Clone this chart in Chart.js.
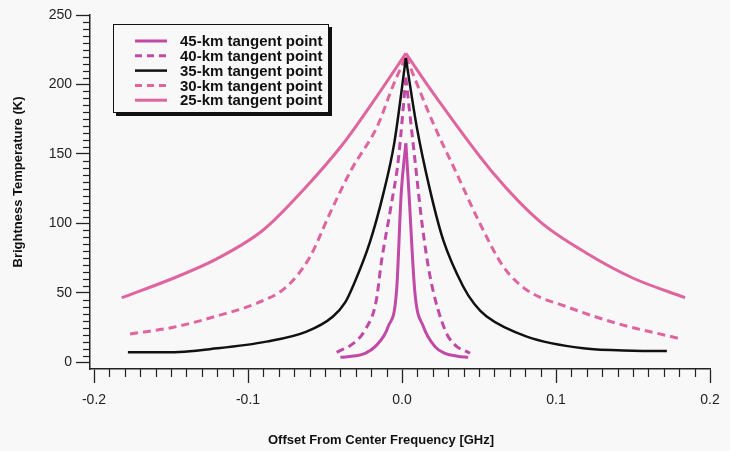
<!DOCTYPE html>
<html>
<head>
<meta charset="utf-8">
<title>Brightness Temperature vs Offset</title>
<script src="https://cdn.jsdelivr.net/npm/chart.js@4"></script>
<style>
  html, body { margin: 0; padding: 0; background: #f8f8f8; }
  #wrap { position: relative; width: 730px; height: 451px; }
</style>
</head>
<body>
<div id="wrap"><canvas id="chart"></canvas></div>
<script>
// ========================================
// Data
// ========================================
const freqTicks = [-0.2, -0.1, 0.0, 0.1, 0.2];
const tempTicks = [0, 50, 100, 150, 200, 250];

const labels = ['45-km tangent point', '40-km tangent point', '35-km tangent point', '30-km tangent point', '25-km tangent point'];

const freq45 = [-0.040, -0.030, -0.024, -0.0175, -0.0089, -0.0035, -0.0005, 0.0025, 0.0045, 0.0084, 0.0138, 0.0214, 0.0279, 0.036, 0.043];
const temp45 = [3.7, 4.8, 6.6, 11.4, 26, 52, 122, 157.7, 122, 50, 26, 11.4, 6.6, 4.5, 3.7];

const freq40 = [-0.0424, -0.0316, -0.024, -0.0168, -0.0132, -0.0072, -0.0024, 0.0025, 0.0084, 0.013, 0.0182, 0.0279, 0.034, 0.0442];
const temp40 = [7.3, 13.7, 23.4, 44, 73.7, 112, 145.7, 205, 145.7, 100, 62, 23.4, 13, 6.6];

const freq35 = [-0.178, -0.153, -0.120, -0.088, -0.062, -0.045, -0.037, -0.031, -0.021, -0.012, -0.005, 0.0025, 0.0095, 0.0182, 0.0268, 0.0398, 0.047, 0.055, 0.081, 0.1177, 0.150, 0.172];
const temp35 = [7.3, 7.3, 10.2, 15, 22.2, 32.9, 43, 57, 86, 122, 158, 219, 170, 124, 88, 54.5, 42, 33, 18.6, 10.2, 8.5, 8.3];

const freq30 = [-0.1766, -0.1485, -0.1203, -0.0944, -0.0749, -0.0597, -0.0468, -0.033, -0.016, -0.0055, 0.0025, 0.0052, 0.0203, 0.0355, 0.0506, 0.0658, 0.081, 0.107, 0.1394, 0.1794];
const temp30 = [20.5, 25.3, 33.4, 42.6, 54.5, 76.1, 107.3, 138.5, 170, 200, 220, 212.8, 172, 136, 100, 69, 52.2, 40.1, 28.2, 17.4];

const freq25 = [-0.182, -0.1485, -0.1203, -0.0901, -0.0641, -0.038, -0.016, 0.0025, 0.0214, 0.0593, 0.0896, 0.1199, 0.1502, 0.1838];
const temp25 = [46.6, 60.6, 74.5, 95.3, 124.1, 157.7, 192, 222.4, 192, 136.1, 101.3, 78.6, 60.6, 46.6];

// ========================================
// Styles
// ========================================
const MAGENTA = '#c04aa6';
const PINK = '#e0659f';
const BLACK = '#111111';
const AXIS = '#222222';
const BG = '#f8f8f8';

const seriesList = [
  { label: labels[0], x: freq45, y: temp45, color: MAGENTA, dash: [], width: 3 },
  { label: labels[1], x: freq40, y: temp40, color: MAGENTA, dash: [8, 5], width: 3 },
  { label: labels[2], x: freq35, y: temp35, color: BLACK, dash: [], width: 2.5 },
  { label: labels[3], x: freq30, y: temp30, color: PINK, dash: [8, 5], width: 3 },
  { label: labels[4], x: freq25, y: temp25, color: PINK, dash: [], width: 3 }
];

// Each curve is split at its peak so the cusp stays sharp
function buildDatasets() {
  const sets = [];
  seriesList.forEach(s => {
    const pts = s.x.map((v, i) => ({ x: v, y: s.y[i] }));
    let peak = 0;
    pts.forEach((p, i) => { if (p.y > pts[peak].y) peak = i; });
    [pts.slice(0, peak + 1), pts.slice(peak)].forEach(part => {
      sets.push({
        label: s.label,
        data: part,
        borderColor: s.color,
        borderWidth: s.width,
        borderDash: s.dash,
        pointRadius: 0,
        fill: false,
        cubicInterpolationMode: 'monotone'
      });
    });
  });
  return sets;
}

// ========================================
// Extras: minor ticks, legend box, axis titles
// ========================================
const extrasPlugin = {
  id: 'extras',
  afterDraw(chart) {
    const ctx = chart.ctx;
    const xs = chart.scales.x;
    const ys = chart.scales.y;
    const area = chart.chartArea;

    ctx.save();
    ctx.strokeStyle = AXIS;
    ctx.lineWidth = 1.2;

    // minor ticks on y (every 5)
    for (let v = 5; v < 250; v += 5) {
      if (v % 50 === 0) continue;
      const py = Math.round(ys.getPixelForValue(v)) + 0.5;
      ctx.beginPath();
      ctx.moveTo(area.left - 7, py);
      ctx.lineTo(area.left, py);
      ctx.stroke();
    }
    // minor ticks on x (every 0.01)
    for (let i = -19; i < 20; i++) {
      if (i % 10 === 0) continue;
      const px = Math.round(xs.getPixelForValue(i / 100)) + 0.5;
      ctx.beginPath();
      ctx.moveTo(px, area.bottom);
      ctx.lineTo(px, area.bottom + 8);
      ctx.stroke();
    }

    // legend box with drop shadow
    const bx = 113, by = 24, bw = 216, bh = 89;
    ctx.fillStyle = '#111';
    ctx.fillRect(bx + 3, by + 3, bw, bh);
    ctx.fillStyle = BG;
    ctx.fillRect(bx, by, bw, bh);
    ctx.strokeStyle = '#111';
    ctx.lineWidth = 1;
    ctx.strokeRect(bx + 0.5, by + 0.5, bw - 1, bh - 1);

    seriesList.forEach((s, i) => {
      const ry = 41 + i * 14.8;
      ctx.strokeStyle = s.color;
      ctx.lineWidth = s.width;
      ctx.setLineDash(s.dash.length ? [7, 5] : []);
      ctx.beginPath();
      ctx.moveTo(135, ry);
      ctx.lineTo(167, ry);
      ctx.stroke();
      ctx.setLineDash([]);
      ctx.fillStyle = '#111';
      ctx.font = 'bold 15px "Liberation Sans", Arial, sans-serif';
      ctx.textAlign = 'left';
      ctx.textBaseline = 'middle';
      ctx.fillText(s.label, 180, ry + 1);
    });

    // axis titles
    ctx.fillStyle = '#111';
    ctx.font = 'bold 13px "Liberation Sans", Arial, sans-serif';
    ctx.textAlign = 'center';
    ctx.textBaseline = 'middle';
    ctx.fillText('Offset From Center Frequency [GHz]', 381, 440);
    ctx.translate(18, 182);
    ctx.rotate(-Math.PI / 2);
    ctx.fillText('Brightness Temperature (K)', 0, 0);
    ctx.restore();
  }
};

// ========================================
// Chart
// ========================================
function initializeChart() {
  const ctx = document.getElementById('chart');
  Chart.defaults.font.family = '"Liberation Sans", Arial, sans-serif';
  Chart.defaults.color = AXIS;

  new Chart(ctx, {
    type: 'line',
    data: { datasets: buildDatasets() },
    options: {
      responsive: true,
      maintainAspectRatio: false,
      animation: false,
      layout: { padding: { top: 15, right: 20, bottom: 0, left: 0 } },
      plugins: {
        legend: { display: false },
        tooltip: { enabled: false }
      },
      scales: {
        x: {
          type: 'linear',
          min: -0.2026,
          max: 0.2,
          afterBuildTicks: scale => { scale.ticks = freqTicks.map(v => ({ value: v })); },
          afterFit: scale => { scale.height = 82; },
          ticks: {
            font: { size: 14 },
            color: AXIS,
            padding: 9,
            maxRotation: 0,
            callback: v => v.toFixed(1)
          },
          grid: {
            drawOnChartArea: false,
            drawTicks: true,
            tickLength: 14,
            tickColor: AXIS,
            tickWidth: 1.3
          },
          border: { color: AXIS, width: 1.5 }
        },
        y: {
          type: 'linear',
          min: -4.7,
          max: 250,
          afterBuildTicks: scale => { scale.ticks = tempTicks.map(v => ({ value: v })); },
          afterFit: scale => { scale.width = 90; },
          ticks: {
            font: { size: 14 },
            color: AXIS,
            padding: 4
          },
          grid: {
            drawOnChartArea: false,
            drawTicks: true,
            tickLength: 14,
            tickColor: AXIS,
            tickWidth: 1.3
          },
          border: { color: AXIS, width: 1.5 }
        }
      }
    },
    plugins: [extrasPlugin]
  });
}

document.addEventListener('DOMContentLoaded', initializeChart);
</script>
</body>
</html>
